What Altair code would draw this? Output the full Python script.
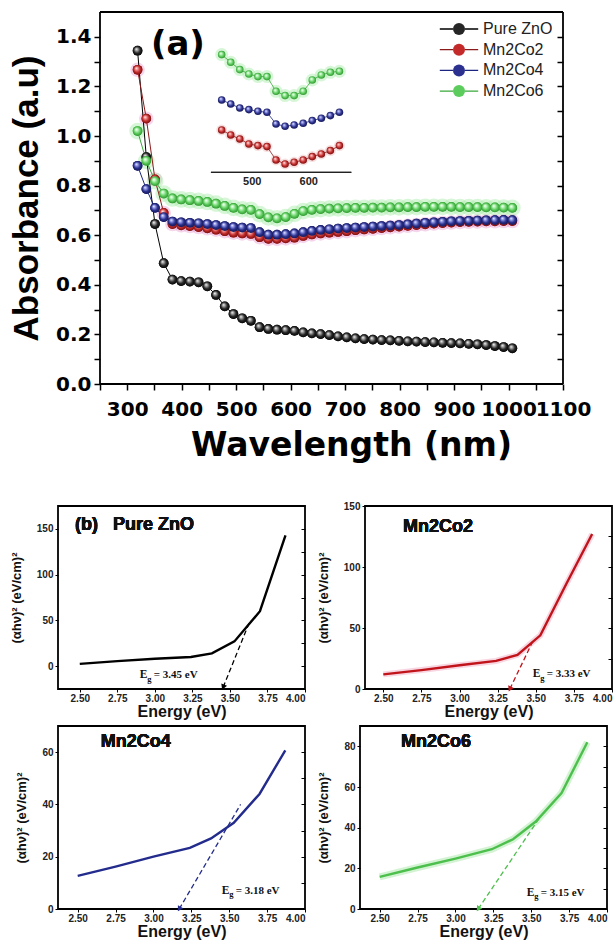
import math
import altair as alt
import pandas as pd

# ---------------- data ----------------
samples = ["Pure ZnO", "Mn2Co2", "Mn2Co4", "Mn2Co6"]

wavelength_nm = [319, 335, 351, 367, 383, 399, 415, 431, 447, 463, 479, 495, 511, 527,
                 543, 559, 575, 591, 607, 623, 639, 655, 671, 687, 703, 719, 735, 751,
                 767, 783, 799, 815, 831, 847, 863, 879, 895, 911, 927, 943, 959, 975,
                 991, 1007]
absorbance_zno = [1.344, 0.915, 0.645, 0.487, 0.421, 0.415, 0.413, 0.410, 0.394, 0.359,
                  0.313, 0.282, 0.265, 0.255, 0.229, 0.222, 0.219, 0.217, 0.214, 0.208,
                  0.204, 0.201, 0.197, 0.192, 0.188, 0.184, 0.181, 0.179, 0.177, 0.176,
                  0.174, 0.172, 0.171, 0.169, 0.168, 0.166, 0.165, 0.164, 0.162, 0.160,
                  0.157, 0.153, 0.149, 0.144]
absorbance_mn2co2 = [1.267, 1.070, 0.825, 0.690, 0.645, 0.640, 0.637, 0.633, 0.628, 0.622,
                     0.616, 0.610, 0.607, 0.605, 0.592, 0.585, 0.585, 0.587, 0.590, 0.597,
                     0.603, 0.607, 0.610, 0.613, 0.616, 0.620, 0.623, 0.626, 0.629, 0.632,
                     0.635, 0.638, 0.641, 0.644, 0.647, 0.649, 0.651, 0.653, 0.654, 0.655,
                     0.656, 0.656, 0.657, 0.657]
absorbance_mn2co4 = [0.880, 0.786, 0.710, 0.673, 0.655, 0.652, 0.650, 0.648, 0.645, 0.641,
                     0.637, 0.633, 0.631, 0.629, 0.612, 0.602, 0.602, 0.604, 0.607, 0.612,
                     0.617, 0.621, 0.624, 0.627, 0.629, 0.631, 0.633, 0.635, 0.637, 0.639,
                     0.641, 0.644, 0.647, 0.650, 0.652, 0.654, 0.656, 0.657, 0.658, 0.659,
                     0.660, 0.661, 0.662, 0.661]
absorbance_mn2co6 = [1.020, 0.900, 0.818, 0.768, 0.748, 0.744, 0.741, 0.738, 0.734, 0.727,
                     0.718, 0.710, 0.704, 0.702, 0.685, 0.672, 0.668, 0.673, 0.686, 0.697,
                     0.702, 0.705, 0.707, 0.708, 0.709, 0.710, 0.710, 0.711, 0.711, 0.712,
                     0.712, 0.713, 0.713, 0.714, 0.714, 0.714, 0.714, 0.713, 0.713, 0.713,
                     0.712, 0.712, 0.711, 0.710]

# inset (magnified, offset view of the 440-660 nm dip)
inset_wavelength_nm = [447, 463, 479, 495, 511, 527, 543, 559, 575, 591, 607, 623, 639, 655]
inset_mn2co2 = [0.423, 0.373, 0.333, 0.283, 0.267, 0.257, 0.123, 0.083, 0.100, 0.123,
                0.157, 0.183, 0.217, 0.267]
inset_mn2co4 = [0.723, 0.683, 0.643, 0.627, 0.610, 0.600, 0.483, 0.460, 0.473, 0.490,
                0.517, 0.540, 0.567, 0.600]
inset_mn2co6 = [1.177, 1.100, 1.027, 0.983, 0.957, 0.957, 0.810, 0.767, 0.767, 0.810,
                0.923, 0.973, 1.000, 1.010]
inset_tick_values = [500, 600]

# Tauc plots
energy_ev = [2.50, 2.75, 3.00, 3.24, 3.38, 3.53, 3.70, 3.87]
tauc_zno = [2.5, 5.5, 8.0, 10.0, 14.0, 27.0, 60.0, 143.0]
tauc_mn2co2 = [12.0, 15.5, 19.5, 23.0, 28.0, 44.0, 86.0, 127.0]
tauc_mn2co4 = [12.7, 16.2, 20.0, 23.4, 27.0, 33.0, 44.0, 60.7]
tauc_mn2co6 = [15.8, 20.4, 24.8, 29.4, 34.3, 43.0, 57.0, 82.0]
band_gap_ev = [3.45, 3.33, 3.18, 3.15]
tangent_x_start = [3.635, 3.48, 3.575, 3.565]
tangent_y_start = [50.0, 39.0, 40.0, 46.0]
tangent_x_end = [3.455, 3.33, 3.17, 3.15]
tangent_y_end = [-23.0, 0.0, 0.0, 0.0]

# ---------------- styles ----------------
fill_cols = ["#262626", "#c42a2a", "#2c3190", "#5ccd5c"]
line_cols = ["#000000", "#8b1a1a", "#1c2580", "#3aa83a"]
light_cols = ["#b0b0b0", "#f4a0a0", "#a0a6ee", "#c8f7c8"]
dark_cols = ["#000000", "#6a0c0c", "#12144a", "#2a8a2a"]


def ball(i):
    return alt.RadialGradient(
        gradient="radial",
        x1=0.36, y1=0.32, r1=0.0, x2=0.5, y2=0.5, r2=0.55,
        stops=[alt.GradientStop(offset=0.0, color="#ffffff"),
               alt.GradientStop(offset=0.22, color=light_cols[i]),
               alt.GradientStop(offset=0.6, color=fill_cols[i]),
               alt.GradientStop(offset=1.0, color=dark_cols[i])])


main_series = [absorbance_zno, absorbance_mn2co2, absorbance_mn2co4, absorbance_mn2co6]
main_df = pd.DataFrame([
    {"sample": s, "series": s, "wavelength": w, "absorbance": v}
    for s, vals in zip(samples, main_series)
    for w, v in zip(wavelength_nm, vals)
])
inset_series = [inset_mn2co2, inset_mn2co4, inset_mn2co6]
inset_df = pd.DataFrame([
    {"sample": s, "wavelength": w, "value": v}
    for s, vals in zip(samples[1:], inset_series)
    for w, v in zip(inset_wavelength_nm, vals)
])

# The top view is widened to the left by SHIFT px (empty margin) so that its
# left edge lines up with the lower panels; the frame is drawn at the data domain.
PLOT_W, TOP_H, SHIFT = 463, 372, 42
TOP_W = PLOT_W + SHIFT
X_DOM = [250, 1100]
Y_DOM = [0, 1.5]
nm_per_px = (X_DOM[1] - X_DOM[0]) / PLOT_W
X_MAIN = alt.Scale(domain=[X_DOM[0] - SHIFT * nm_per_px, X_DOM[1]], nice=False, zero=False)
Y_MAIN = alt.Scale(domain=Y_DOM, nice=False, zero=False)
X_INSET = alt.Scale(domain=[157.8, 1050], nice=False, zero=False)
Y_INSET = alt.Scale(domain=[-2.117, 1.603], nice=False, zero=False)

xm = alt.X("wavelength:Q", scale=X_MAIN, axis=None)
ym = alt.Y("absorbance:Q", scale=Y_MAIN, axis=None)
xi = alt.X("wavelength:Q", scale=X_INSET, axis=None)
yi = alt.Y("value:Q", scale=Y_INSET, axis=None)

base = alt.Chart(main_df)

frame_df = pd.DataFrame({
    "x": [X_DOM[0], X_DOM[1], X_DOM[0], X_DOM[0]],
    "x2": [X_DOM[0], X_DOM[1], X_DOM[1], X_DOM[1]],
    "y": [Y_DOM[0], Y_DOM[0], Y_DOM[0], Y_DOM[1]],
    "y2": [Y_DOM[1], Y_DOM[1], Y_DOM[0], Y_DOM[1]],
})
frame = alt.Chart(frame_df).mark_rule(color="black", strokeWidth=1.8).encode(
    x=alt.X("x:Q", scale=X_MAIN, axis=None), x2="x2:Q",
    y=alt.Y("y:Q", scale=Y_MAIN, axis=None), y2="y2:Q")

glow_co2 = base.transform_filter(alt.datum.sample == "Mn2Co2").mark_circle(
    size=210, color="#d868b8", opacity=0.28).encode(x=xm, y=ym)
glow_co6 = base.transform_filter(alt.datum.sample == "Mn2Co6").mark_circle(
    size=280, color="#a6eaa6", opacity=0.45).encode(x=xm, y=ym)

LEG_X, LEG_Y = 393, 9
line_legend = alt.Legend(title=None, orient="none", legendX=LEG_X, legendY=LEG_Y,
                         symbolType="M-3.2,0L-1,0M1,0L3.2,0", symbolSize=144,
                         symbolStrokeWidth=1.3, symbolFillColor="transparent",
                         labelFont="Liberation Sans", labelFontSize=16, labelOpacity=0,
                         labelOffset=16, rowPadding=4.7, padding=0)
# data-derived (sorted) domain keeps this legend separate from the dot legend
lines = base.mark_line(strokeWidth=1).encode(
    x=xm, y=ym,
    stroke=alt.Stroke("series:N", sort=samples, scale=alt.Scale(range=line_cols),
                      legend=line_legend))

dot_legend = alt.Legend(title=None, orient="none", legendX=LEG_X, legendY=LEG_Y,
                        symbolType="circle", symbolSize=144, symbolStrokeWidth=0,
                        labelFont="Liberation Sans", labelFontSize=16, labelColor="#222",
                        labelOpacity=1, labelOffset=16, rowPadding=4.7, padding=0)

x_axis_main = alt.Axis(
    values=list(range(250, 1101, 50)),
    labelExpr="datum.value % 100 == 0 && datum.value >= 300 ? datum.value : ''",
    tickSize=6, tickWidth=1.5, tickColor="black", domain=False, grid=False,
    labelFont="DejaVu Sans", labelFontWeight="bold", labelFontSize=20, labelColor="black",
    labelPadding=9, labelFlush=False, labelOverlap=False,
    title="Wavelength (nm)", titleFont="DejaVu Sans", titleFontWeight="bold",
    titleFontSize=33, titleColor="black", titlePadding=10, titleX=293, titleAlign="center")
y_axis_main = alt.Axis(
    values=[round(i * 0.1, 1) for i in range(15)], offset=-SHIFT,
    labelExpr="round(datum.value * 10) % 2 == 0 ? format(datum.value, '.1f') : ''",
    tickSize=6, tickWidth=1.5, tickColor="black", domain=False, grid=False,
    labelFont="DejaVu Sans", labelFontWeight="bold", labelFontSize=20, labelColor="black",
    labelPadding=3, labelFlush=False,
    title="Absorbance (a.u)", titleFont="Liberation Sans", titleFontWeight="bold",
    titleFontSize=35, titleColor="black", titlePadding=11)

flat_points = base.mark_point(filled=True, size=95, opacity=1, strokeWidth=0).encode(
    x=alt.X("wavelength:Q", scale=X_MAIN, axis=x_axis_main),
    y=alt.Y("absorbance:Q", scale=Y_MAIN, axis=y_axis_main),
    fill=alt.Fill("sample:N", scale=alt.Scale(domain=samples, range=fill_cols), legend=dot_legend),
)

ball_layers = [
    base.transform_filter(alt.datum.sample == s).mark_point(
        filled=True, size=95, opacity=1, strokeWidth=0, fill=ball(i)).encode(x=xm, y=ym)
    for i, s in enumerate(samples)
]

right_ticks = base.mark_point(opacity=0).encode(
    y=alt.Y("absorbance:Q", scale=Y_MAIN,
            axis=alt.Axis(orient="right", offset=-6, tickSize=6, tickWidth=1.5, tickColor="black",
                          values=[round(i * 0.1, 1) for i in range(1, 15)], labels=False,
                          domain=False, grid=False, title=None)))

panel_a_label = alt.Chart(pd.DataFrame({"label": ["(a)"]})).mark_text(
    text="(a)", align="center", baseline="alphabetic", font="DejaVu Sans", fontSize=34,
    fontWeight="bold", color="black").encode(
    x=alt.XDatum(393, scale=X_MAIN, axis=None), y=alt.YDatum(1.327, scale=Y_MAIN, axis=None))

ibase = alt.Chart(inset_df)
inset_glow = ibase.transform_filter(alt.datum.sample == "Mn2Co6").mark_circle(
    size=170, color="#a6eaa6", opacity=0.45).encode(x=xi, y=yi)
inset_glow2 = ibase.transform_filter(alt.datum.sample == "Mn2Co2").mark_circle(
    size=120, color="#e08080", opacity=0.25).encode(x=xi, y=yi)
inset_line_layers = [
    ibase.transform_filter(alt.datum.sample == s).mark_line(
        strokeWidth=0.8, color=line_cols[i + 1]).encode(x=xi, y=yi)
    for i, s in enumerate(samples[1:])
]
inset_balls = [
    ibase.transform_filter(alt.datum.sample == s).mark_point(
        filled=True, size=58, opacity=1, strokeWidth=0, fill=ball(i + 1)).encode(x=xi, y=yi)
    for i, s in enumerate(samples[1:])
]
inset_axis = alt.Chart(pd.DataFrame({"tick": inset_tick_values})).mark_rule(
    color="#222", strokeWidth=1.3).encode(
    x=alt.XDatum(428, scale=X_INSET,
                 axis=alt.Axis(orient="bottom", offset=-212, values=inset_tick_values,
                               domain=False, ticks=False, grid=False, title=None,
                               labelFont="Liberation Sans", labelFontWeight="bold",
                               labelFontSize=11, labelColor="#222", labelPadding=3)),
    x2=alt.X2Datum(676),
    y=alt.YDatum(0, scale=Y_INSET, axis=None))

top = alt.layer(
    frame, glow_co2, glow_co6, lines, flat_points, *ball_layers, right_ticks, panel_a_label,
    inset_glow2, inset_glow, *inset_line_layers, *inset_balls, inset_axis,
).resolve_scale(x="independent", y="independent").properties(
    width=TOP_W, height=TOP_H, view=alt.ViewBackground(stroke="transparent"))

# ---------------- Tauc panels ----------------
P_W, P_H = 247, 183
panel_cfg = [
    dict(name="(b)\u00a0\u00a0\u00a0Pure ZnO", vals=tauc_zno, xd=[2.355, 4.0], yd=[-25, 175],
         yt=[0, 50, 100, 150], yminor=list(range(-25, 176, 25)), lab_at=(2.468, 148.8),
         eg_at=(2.9, -10)),
    dict(name="Mn2Co2", vals=tauc_mn2co2, xd=[2.38, 4.0], yd=[0, 150],
         yt=[0, 50, 100, 150], yminor=list(range(25, 150, 25)), lab_at=(2.629, 128.7),
         eg_at=(3.48, 12)),
    dict(name="Mn2Co4", vals=tauc_mn2co4, xd=[2.37, 4.0], yd=[0, 70],
         yt=[0, 20, 40, 60], yminor=list(range(10, 70, 10)), lab_at=(2.652, 62.0),
         eg_at=(3.45, 7)),
    dict(name="Mn2Co6", vals=tauc_mn2co6, xd=[2.37, 4.0], yd=[0, 90],
         yt=[0, 20, 40, 60, 80], yminor=list(range(10, 90, 10)), lab_at=(2.64, 79.7),
         eg_at=(3.47, 8)),
]
glow_cfg = [None, ("#e886a8", 6, 0.35), None, ("#a8e8a8", 7, 0.5)]
panel_line_cols = ["#000000", "#c0141a", "#232c8c", "#4cbf4c"]


def tauc_panel(i):
    cfg = panel_cfg[i]
    col = panel_line_cols[i]
    xs = alt.Scale(domain=cfg["xd"], nice=False, zero=False)
    ys = alt.Scale(domain=cfg["yd"], nice=False, zero=False)
    df = pd.DataFrame({"energy": energy_ev, "value": cfg["vals"]})
    x_axis = alt.Axis(values=[2.5, 2.75, 3.0, 3.25, 3.5, 3.75, 4.0], format=".2f",
                      tickSize=3, tickColor="black", domain=False, grid=False,
                      labelFont="Liberation Sans", labelFontWeight="bold", labelFontSize=10,
                      labelColor="#222", labelPadding=1, labelFlush=True, labelOverlap=False,
                      title="Energy (eV)", titleFont="Liberation Sans", titleFontWeight="bold",
                      titleFontSize=16, titleColor="#111", titlePadding=0)
    y_axis = alt.Axis(values=cfg["yt"], format="d", tickSize=3, tickColor="black",
                      domain=False, grid=False, labelFont="Liberation Sans",
                      labelFontWeight="bold", labelFontSize=10, labelColor="#222",
                      labelPadding=2, labelFlush=False,
                      title="(\u03b1h\u03bd)\u00b2 (eV/cm)\u00b2", titleFont="Liberation Sans",
                      titleFontWeight="bold", titleFontSize=13, titleColor="#111",
                      titlePadding=13)
    layers = []
    g = glow_cfg[i]
    if g is not None:
        layers.append(alt.Chart(df).mark_line(color=g[0], strokeWidth=g[1], opacity=g[2]).encode(
            x=alt.X("energy:Q", scale=xs, axis=None), y=alt.Y("value:Q", scale=ys, axis=None)))
    layers.append(alt.Chart(df).mark_line(color=col, strokeWidth=2.4).encode(
        x=alt.X("energy:Q", scale=xs, axis=x_axis), y=alt.Y("value:Q", scale=ys, axis=y_axis)))
    tan_df = pd.DataFrame({"energy": [tangent_x_start[i], tangent_x_end[i]],
                           "value": [tangent_y_start[i], tangent_y_end[i]]})
    layers.append(alt.Chart(tan_df).mark_line(color=col, strokeWidth=1.3, strokeDash=[5, 3]).encode(
        x=alt.X("energy:Q", scale=xs, axis=None), y=alt.Y("value:Q", scale=ys, axis=None)))
    # arrow head oriented along the tangent
    px_x = P_W / (cfg["xd"][1] - cfg["xd"][0])
    px_y = P_H / (cfg["yd"][1] - cfg["yd"][0])
    ddx = (tangent_x_end[i] - tangent_x_start[i]) * px_x
    ddy = (tangent_y_start[i] - tangent_y_end[i]) * px_y
    ang = math.degrees(math.atan2(-ddx, ddy))
    end_df = pd.DataFrame({"energy": [tangent_x_end[i]], "value": [tangent_y_end[i]]})
    layers.append(alt.Chart(end_df).mark_point(shape="triangle-down", filled=True, size=38,
                                               opacity=1, color=col, angle=ang).encode(
        x=alt.X("energy:Q", scale=xs, axis=None), y=alt.Y("value:Q", scale=ys, axis=None)))
    # panel label
    lx, ly = cfg["lab_at"]
    layers.append(alt.Chart(df).mark_text(
        text=cfg["name"], align="left", baseline="alphabetic", font="Liberation Sans",
        fontSize=18, fontWeight="bold", color="#111").encode(
        x=alt.XDatum(lx, scale=xs, axis=None), y=alt.YDatum(ly, scale=ys, axis=None)))
    # Eg label
    eg_df = pd.DataFrame({"eg": [band_gap_ev[i]]})
    ex, ey = cfg["eg_at"]
    pos = dict(x=alt.XDatum(ex, scale=xs, axis=None), y=alt.YDatum(ey, scale=ys, axis=None))
    layers.append(alt.Chart(eg_df).mark_text(text="E", align="left", baseline="middle",
                                             font="Liberation Serif", fontWeight="bold",
                                             fontSize=11.5, color="#111").encode(**pos))
    layers.append(alt.Chart(eg_df).mark_text(text="g", align="left", baseline="middle", dx=7.5,
                                             dy=3.5, font="Liberation Serif", fontWeight="bold",
                                             fontSize=8.5, color="#111").encode(**pos))
    layers.append(alt.Chart(eg_df).transform_calculate(
        lab="'= ' + format(datum.eg, '.2f') + ' eV'").mark_text(
        align="left", baseline="middle", dx=14, font="Liberation Serif", fontWeight="bold",
        fontSize=11, color="#111").encode(text="lab:N", **pos))
    # inward ticks on the right
    layers.append(alt.Chart(df).mark_point(opacity=0).encode(
        y=alt.Y("value:Q", scale=ys,
                axis=alt.Axis(orient="right", offset=-4, tickSize=4, tickColor="black",
                              values=cfg["yminor"], labels=False, domain=False, grid=False,
                              title=None))))
    return alt.layer(*layers).resolve_axis(x="independent", y="independent").properties(
        width=P_W, height=P_H)


row1 = alt.hconcat(tauc_panel(0), tauc_panel(1), spacing=9)
row2 = alt.hconcat(tauc_panel(2), tauc_panel(3), spacing=9)

chart = alt.vconcat(
    top, alt.vconcat(row1, row2, spacing=5), spacing=37
).resolve_scale(fill="independent", stroke="independent").resolve_legend(
    fill="independent", stroke="independent"
).properties(
    padding={"left": 8, "top": 10, "right": 0, "bottom": 0},
    background="white",
).configure_view(stroke="black", strokeWidth=1.8)

chart.save("out.html", embed_options={"renderer": "svg", "actions": False})
